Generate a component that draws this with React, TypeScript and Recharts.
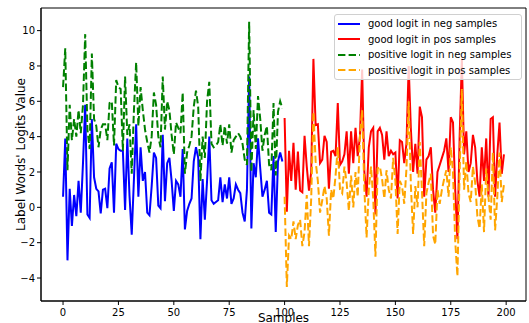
import React from 'react';
import { LineChart, Line, XAxis, YAxis, Legend, CartesianGrid } from 'recharts';

// Sample index 0..99: negative samples
const negGood = [
  0.6, 3.9, -3.0, 1.05, -1.05, 0.7, -0.5, 1.5, -0.3, 2.5,
  5.8, -0.4, -0.6, 5.0, 1.7, 1.05, 0.9, -0.35, 1.0, 1.05,
  -0.05, 2.2, 2.55, -0.3, 3.6, 3.3, 3.2, 3.2, -0.15, 3.9,
  0.65, -1.55, 1.6, 4.7, 0.6, 3.4, 1.5, 2.0, -0.3, -0.45,
  1.2, 3.1, 2.8, 0.1, -0.05, 4.1, 0.35, 2.5, 2.8, 1.5,
  -0.2, 1.5, 1.3, 0.6, 3.3, -1.25, -0.2, 0.2, 0.5, 2.6,
  3.4, 2.8, -1.8, 1.6, -0.7, 1.5, 4.0, 0.4, 0.2, 0.3,
  0.4, 1.7, 0.3, 1.3, 0.5, 1.7, 0.2, 0.5, 1.3, 1.0,
  0.8, -0.3, -0.8, 1.0, 7.4, -1.2, 2.5, 1.7, 3.9, 2.2,
  0.6, 1.0, 1.5, -0.3, -0.4, 2.9, -1.4, 2.6, 3.1, 2.6,
];

const negPositive = [
  6.8, 9.0, 2.1, 5.8, 3.8, 5.0, 4.0, 5.5, 4.2, 5.8,
  9.8, 4.4, 3.3, 8.7, 5.0, 4.6, 3.4, 4.4, 4.7, 4.7,
  3.8, 5.9, 6.0, 3.5, 7.2, 6.8, 6.7, 3.2, 7.4, 4.1,
  4.7, 1.9, 5.5, 8.2, 4.6, 6.8, 5.5, 4.4, 3.7, 3.1,
  4.0, 6.5, 5.8, 4.0, 3.4, 7.4, 4.4, 6.0, 5.5, 4.1,
  3.0, 4.8, 4.5, 4.2, 6.5, 1.9, 3.1, 3.5, 4.0, 5.7,
  6.6, 5.7, 1.5, 4.0, 2.8, 6.0, 7.1, 3.6, 3.4, 3.5,
  3.7, 4.7, 3.5, 4.6, 3.6, 4.7, 3.1, 3.8, 4.0, 4.2,
  4.0, 3.6, 2.7, 2.4, 10.5, 2.0, 5.5, 3.3, 6.3, 5.0,
  3.2, 4.1, 4.6, 2.4, 2.1, 5.9, 1.8, 5.4, 6.0, 5.6,
];

// Sample index 100..199: positive samples
const posGood = [
  5.05, -0.25, 3.2, 1.5, 3.65, 1.0, 3.15, 0.95, 0.85, 4.05,
  2.3, 0.95, 2.0, 8.4, 4.65, 4.7, 2.5, 2.7, 4.05, 3.7,
  1.05, 3.15, 3.2, 2.9, 5.9, 2.4, 2.6, 3.0, 4.3, 1.9,
  4.3, 2.5, 4.5, 2.9, 4.0, 7.8, 2.0, 0.6, 3.4, 4.3,
  4.5, -0.4, 4.3, 4.5, 4.1, 2.7, 4.3, 2.9, 3.2, 3.0,
  3.1, 0.5, 3.8, 3.7, 2.5, 3.6, 8.0, 4.4, 2.0, 3.6,
  1.9, 5.7, 5.1, 0.6, 2.7, 2.9, 3.4, 1.0, -0.3, 2.0,
  2.4, 2.8, 3.2, 3.9, 2.0, 5.1, 4.8, 1.0, -1.8, 4.0,
  8.4, 3.0, 4.3, 2.0, 2.5, 4.1, 3.4, 1.5, 0.6, 3.4,
  1.5, 3.9, 0.6, 5.0, 5.1, 0.6, 3.0, 4.8, 1.9, 3.0,
];

const posPositive = [
  0.6, -4.5, -1.6, -1.8, -0.8, -1.8, -1.0, -0.7, -2.2, -1.4,
  0.7, -2.2, 0.5, 5.4, 2.6, 1.5, -0.3, 0.4, 1.2, 0.5,
  -1.6, 1.0, 0.5, 1.8, 3.4, 1.0, 0.8, 2.3, 1.4, -0.2,
  1.8, 0.0, 2.0, 0.6, 4.0, 5.5, 1.0, -1.7, 1.0, 2.3,
  0.5, -2.8, 2.2, 2.3, 1.6, 0.5, 2.1, 1.0, 0.5, 2.8,
  1.5, -1.5, 1.5, 1.2, 0.2, 2.2, 6.0, 1.2, -1.5, 1.2,
  0.0, 3.7, 0.9, -2.2, 0.8, 1.4, 1.9, -1.6, -2.1, 1.0,
  0.2, 1.0, 1.6, 2.1, 0.6, 3.4, 2.0, -1.9, -3.9, 2.0,
  6.7, 1.0, 2.6, 0.8, 0.3, 2.3, 1.4, -0.5, -1.2, 1.3,
  -1.4, 2.2, 0.6, -0.7, 3.1, -1.3, 0.6, 3.1, 0.3, 1.3,
];

const xTicks = [0, 25, 50, 75, 100, 125, 150, 175, 200];
const yTicks = [-4, -2, 0, 2, 4, 6, 8, 10];

const seriesNames = [
  'good logit in neg samples',
  'good logit in pos samples',
  'positive logit in neg samples',
  'positive logit in pos samples',
];
const seriesColors = ['#0000ff', '#ff0000', '#008000', '#ffa500'];
const seriesDashed = [false, false, true, true];

const negRows = negGood.map((v, i) => ({ x: i, good: v, positive: negPositive[i] }));
const posRows = posGood.map((v, i) => ({ x: 100 + i, good: v, positive: posPositive[i] }));

const FONT = '"DejaVu Sans", sans-serif';
const X_DOMAIN: [number, number] = [-9.95, 208.95];
const Y_DOMAIN: [number, number] = [-5.3, 11.28];

const fmt = (v: number) => (v < 0 ? '\u2212' + Math.abs(v) : String(v));

// frame lines along the edges of the plotting area
const frameRows = ({ offset }: any) => [offset.top, offset.top + offset.height];
const frameCols = ({ offset }: any) => [offset.left, offset.left + offset.width];

const LegendBox = () => (
  <div
    style={{
      background: 'rgba(255,255,255,0.8)',
      border: '1px solid #d0d0d0',
      borderRadius: 3,
      padding: '1px 0 1px 3px',
      fontFamily: FONT,
      fontSize: 10,
      color: '#000',
      boxSizing: 'border-box',
      width: 188,
    }}
  >
    {seriesNames.map((name, k) => (
      <div key={name} style={{ display: 'flex', alignItems: 'center', height: 15.5 }}>
        <svg width={23} height={8} style={{ marginRight: 7, flex: 'none' }}>
          <line
            x1={0}
            y1={4}
            x2={22}
            y2={4}
            stroke={seriesColors[k]}
            strokeWidth={2}
            strokeDasharray={seriesDashed[k] ? '7.4 3.2' : undefined}
          />
        </svg>
        <span style={{ whiteSpace: 'nowrap' }}>{name}</span>
      </div>
    ))}
  </div>
);

export default function App() {
  return (
    <div style={{ position: 'absolute', left: 0, top: 0, width: 529, height: 323, background: '#fff', overflow: 'hidden' }}>
      <LineChart width={529} height={323} margin={{ top: 8, right: 3, bottom: 0, left: 0 }}>
        <CartesianGrid
          stroke="#000"
          strokeWidth={1}
          horizontalCoordinatesGenerator={frameRows}
          verticalCoordinatesGenerator={frameCols}
        />
        <XAxis
          dataKey="x"
          type="number"
          domain={X_DOMAIN}
          allowDataOverflow
          ticks={xTicks}
          height={22}
          tickSize={4}
          tickMargin={4}
          stroke="#000"
          tick={{ fill: '#000', fontSize: 10, fontFamily: FONT }}
        />
        <YAxis
          type="number"
          domain={Y_DOMAIN}
          allowDataOverflow
          ticks={yTicks}
          width={41}
          tickSize={4}
          tickMargin={2}
          tickFormatter={fmt}
          stroke="#000"
          tick={{ fill: '#000', fontSize: 10, fontFamily: FONT }}
          label={{
            content: () => (
              <text
                x={20.5}
                y={154.5}
                transform="rotate(-90, 20.5, 154.5)"
                textAnchor="middle"
                dominantBaseline="central"
                fontSize={12}
                fontFamily={FONT}
                fill="#000"
              >
                Label Words' Logits Value
              </text>
            ),
          }}
        />
        <Line
          data={negRows}
          dataKey="good"
          name={seriesNames[0]}
          stroke={seriesColors[0]}
          strokeWidth={2}
          dot={false}
          isAnimationActive={false}
        />
        <Line
          data={posRows}
          dataKey="good"
          name={seriesNames[1]}
          stroke={seriesColors[1]}
          strokeWidth={2}
          dot={false}
          isAnimationActive={false}
        />
        <Line
          data={negRows}
          dataKey="positive"
          name={seriesNames[2]}
          stroke={seriesColors[2]}
          strokeWidth={2}
          strokeDasharray="7.4 3.2"
          dot={false}
          isAnimationActive={false}
        />
        <Line
          data={posRows}
          dataKey="positive"
          name={seriesNames[3]}
          stroke={seriesColors[3]}
          strokeWidth={2}
          strokeDasharray="7.4 3.2"
          dot={false}
          isAnimationActive={false}
        />
        <Legend
          layout="horizontal"
          verticalAlign="middle"
          align="center"
          content={() => <LegendBox />}
          wrapperStyle={{ position: 'absolute', left: 334, top: 14, width: 188, height: 'auto' }}
        />
      </LineChart>
      <div
        style={{
          position: 'absolute',
          left: 41,
          width: 485,
          top: 311,
          textAlign: 'center',
          fontFamily: FONT,
          fontSize: 12,
          lineHeight: '14px',
          color: '#000',
        }}
      >
        Samples
      </div>
    </div>
  );
}
